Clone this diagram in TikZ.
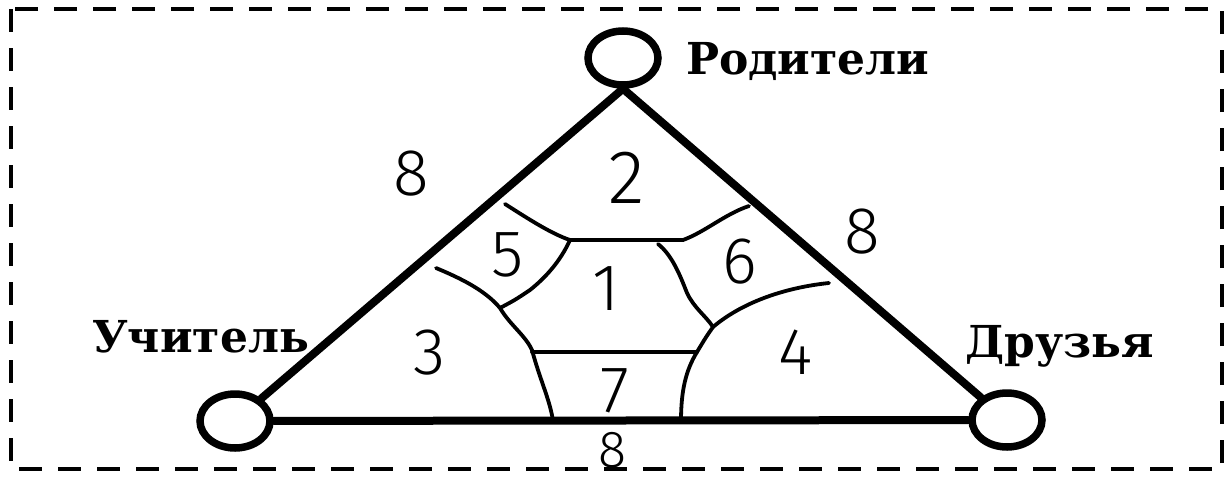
\documentclass[tikz,border=0pt]{standalone}
\usepackage{fontspec}
\setmainfont{DejaVu Serif}
\newfontfamily\digitfont{Fira Sans Light}
\usetikzlibrary{shapes.geometric}
\tikzset{
  role/.style={ellipse, draw, line width=7.5pt, minimum width=70pt, minimum height=54pt, inner sep=0pt},
  side/.style={line width=8pt, line cap=round},
  part/.style={line width=3.8pt, line join=round, line cap=round},
  num/.style={font=\digitfont\fontsize{66}{66}\selectfont, inner sep=0pt},
  bignum/.style={font=\digitfont\fontsize{76}{76}\selectfont, inner sep=0pt},
  smallnum/.style={font=\digitfont\fontsize{52}{52}\selectfont, inner sep=0pt},
  lbl/.style={font=\bfseries\fontsize{44}{44}\selectfont, inner sep=0pt, anchor=base west},
  frame/.style={line width=4.8pt, dash pattern=on 23pt off 16pt}
}
\begin{document}
\begin{tikzpicture}[x=1pt,y=-1pt]
\useasboundingbox (0,0) rectangle (1232,477);
\draw[frame] (11,9) rectangle (1222,469);
% role circles
\node[role] (P) at (623,58) {};
\node[role] (T) at (235,421) {};
\node[role] (F) at (1007,420) {};
% triangle
\draw[side] (P.south) -- (T);
\draw[side] (P.south) -- (F);
\draw[side] (T) -- (F);
% labels
\node[lbl] (lP) at (686,74) {Родители};
\node[lbl] (lT) at (92,352) {Учитель};
\node[lbl] (lF) at (965,357) {Друзья};
% inner partition
\draw[part] (505,204) .. controls (530,220) and (552,234) .. (570,240)
  -- (683,240) .. controls (705,232) and (725,214) .. (749,206);
\draw[part] (570,240) .. controls (560,262) and (545,278) .. (530,290)
  .. controls (515,300) .. (500,308);
\draw[part] (436,268) .. controls (460,278) and (485,290) .. (500,308)
  .. controls (510,325) and (525,335) .. (532,350);
\draw[part] (532,352) -- (697,352);
\draw[part] (532,350) .. controls (540,380) and (550,400) .. (553,421);
\draw[part] (658,244) .. controls (672,255) and (680,275) .. (687,293)
  .. controls (694,308) and (706,316) .. (713,327)
  .. controls (706,337) .. (697,352) .. controls (686,370) and (681,390) .. (681,421);
\draw[part] (713,327) .. controls (745,300) and (790,287) .. (829,283);
% numbers
\node[bignum] (n2) at (627,178) {2};
\node[num] (n1) at (606,289) {1};
\node[num] (n5) at (508,255) {5};
\node[num] (n6) at (740,262) {6};
\node[num] (n3) at (430,353) {3};
\node[num] (n4) at (796,352) {4};
\node[num] (n7) at (615,391) {7};
\node[num] (n8a) at (411,174) {8};
\node[num] (n8b) at (862,232) {8};
\node[smallnum] (n8c) at (612,450) {8};
\end{tikzpicture}
\end{document}
